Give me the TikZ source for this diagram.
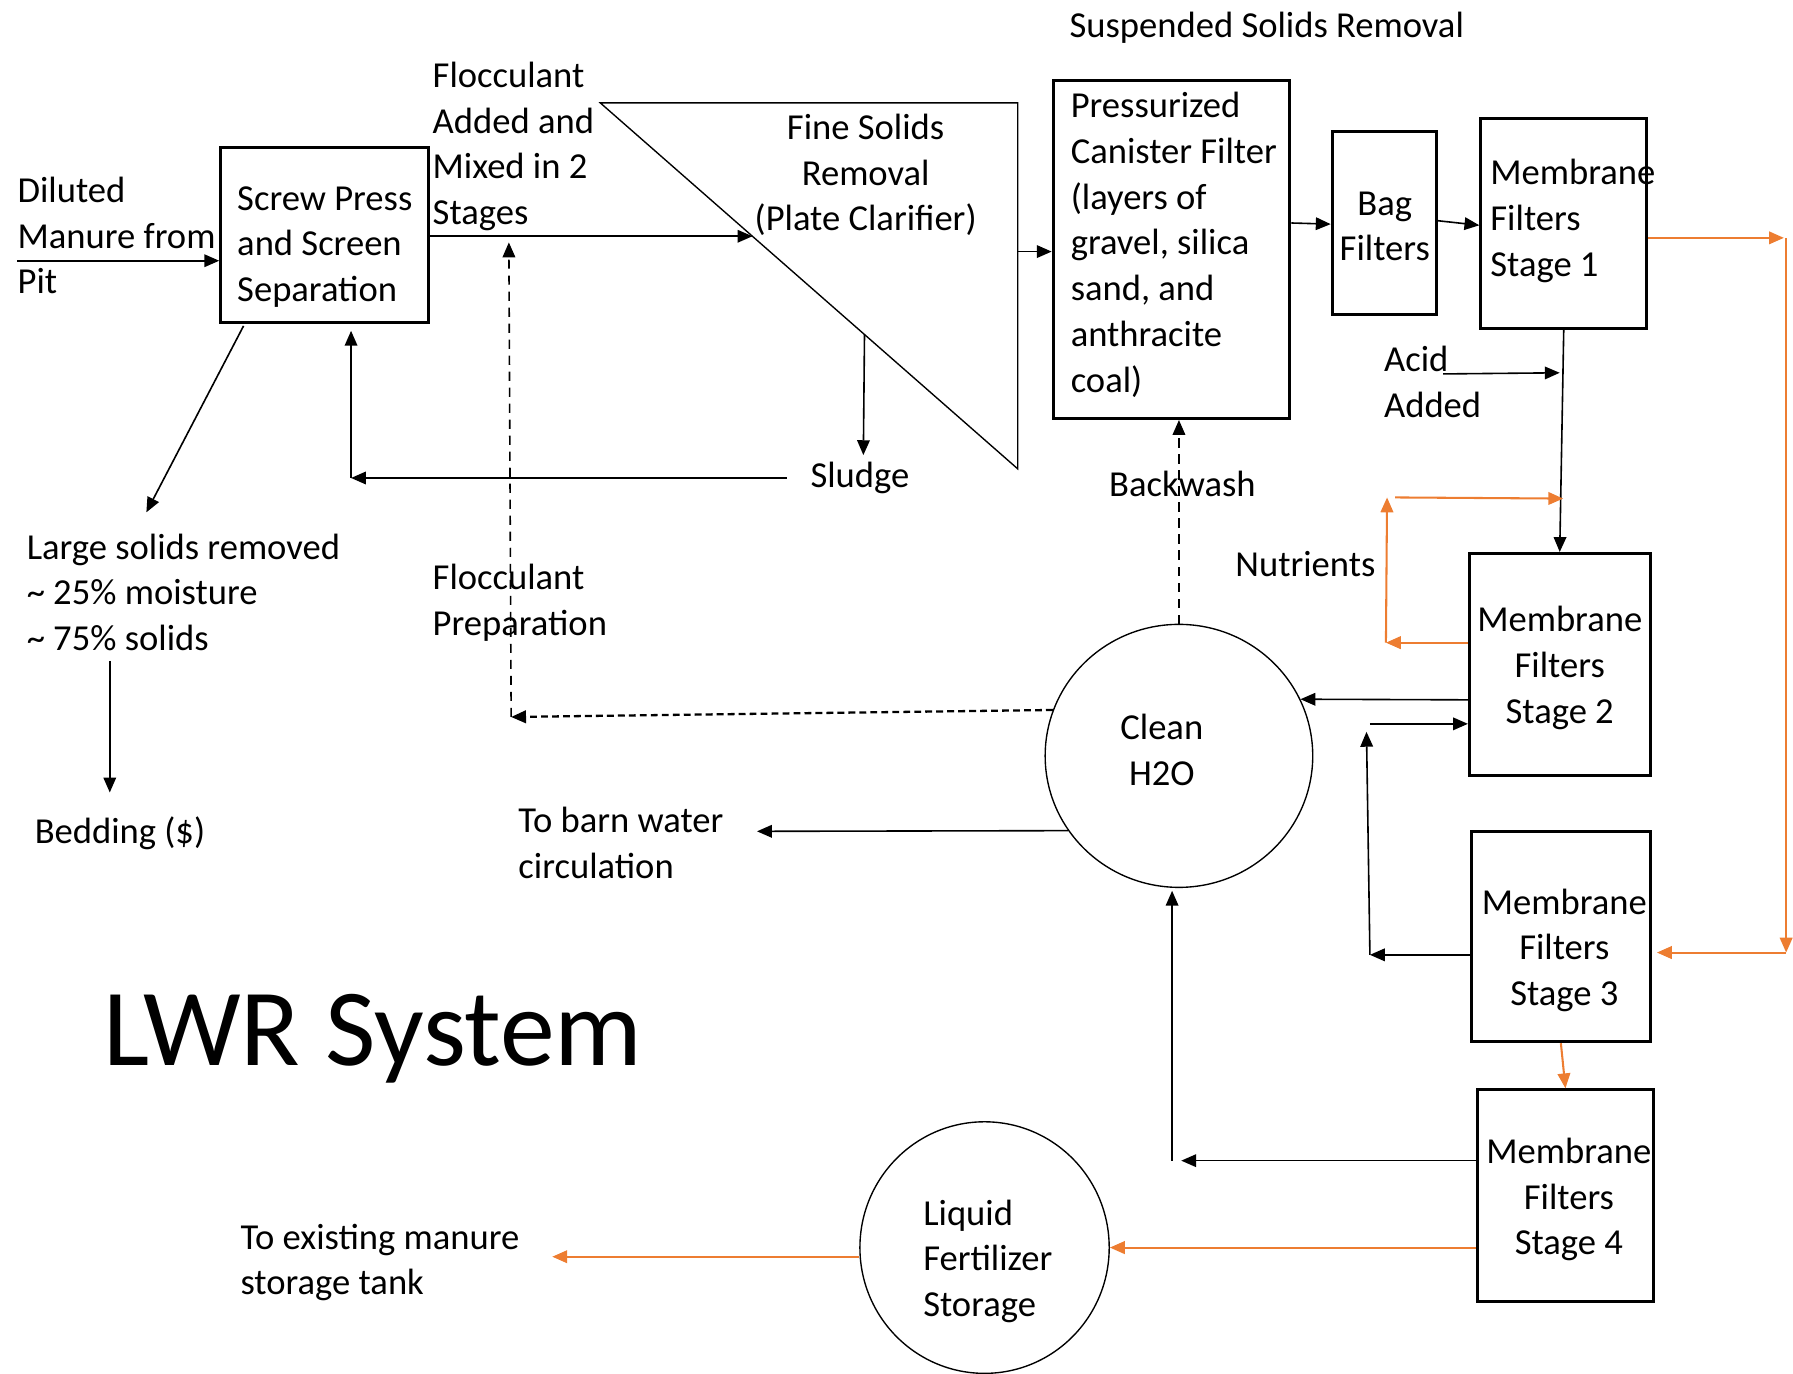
\documentclass[tikz,border=0pt]{standalone}
\usepackage{fontspec}
\setmainfont{Carlito}
\usetikzlibrary{arrows.meta,shapes.geometric,fit,calc}
\definecolor{orng}{RGB}{237,125,49}
\begin{document}
\begin{tikzpicture}[x=0.5pt,y=-0.5pt,
 box/.style={draw,line width=1.3pt,inner sep=0pt},
 ring/.style={draw,ellipse,line width=0.6pt,inner sep=0pt},
 lbl/.style={inner sep=0pt,align=left,font=\fontsize{16}{20}\selectfont},
 clbl/.style={lbl,align=center},
 conn/.style={line width=0.7pt,-{Triangle[length=6.5pt,width=5.5pt]}},
 oconn/.style={conn,draw=orng,line width=0.9pt},
 dconn/.style={conn,dash pattern=on 4pt off 3pt},
 ]
\useasboundingbox (0,0) rectangle (1568,1201);

% boxes
\node[box,fit={(193,129)(375,282)}] (sp) {};
\node[box,fit={(921,70)(1128,366)}] (can) {};
\node[box,fit={(1165,115)(1256,275)}] (bag) {};
\node[box,fit={(1295,104)(1440,287)}] (m1) {};
\node[box,fit={(1285,484)(1443,678)}] (m2) {};
\node[box,fit={(1287,727)(1443,911)}] (m3) {};
\node[box,fit={(1292,953)(1446,1138)}] (m4) {};

% circles
\node[ring,minimum width=117pt,minimum height=115pt] (clean) at (1031,661) {};
\node[ring,minimum width=109pt,minimum height=110pt] (liq) at (861,1091) {};

% plate clarifier
\coordinate (tA) at (525,90);
\coordinate (tB) at (890,90);
\coordinate (tC) at (890,410);
\draw[line width=0.6pt] (tA) -- (tB) -- (tC) -- cycle;

% texts
\node[lbl,anchor=west] (susp) at (935,24) {Suspended Solids Removal};
\node[lbl,anchor=west] (dil) at (15,206) {Diluted\\Manure from\\Pit};
\node[lbl] (sptxt) at (284,216) {Screw Press\\and Screen\\Separation};
\node[lbl,anchor=west] (floc) at (378,128) {Flocculant\\Added and\\Mixed in 2\\Stages};
\node[clbl] (fine) at (757,153) {Fine Solids\\Removal\\(Plate Clarifier)};
\node[lbl,anchor=west] (cantxt) at (936,214) {Pressurized\\Canister Filter\\(layers of\\gravel, silica\\sand, and\\anthracite\\coal)};
\node[clbl] (bagtxt) at (1211,198) {Bag\\Filters};
\node[lbl,anchor=west] (m1txt) at (1303,193) {Membrane\\Filters\\Stage 1};
\node[lbl,anchor=west] (acid) at (1210,334) {Acid\\Added};
\node[lbl] (sludge) at (752,418) {Sludge};
\node[lbl] (backwash) at (1034,423) {Backwash};
\node[lbl,anchor=west] (nutr) at (1080,493) {Nutrients};
\node[lbl,anchor=west] (large) at (23,518) {Large solids removed\\\textasciitilde\ 25\% moisture\\\textasciitilde\ 75\% solids};
\node[lbl,anchor=west] (flocprep) at (378,527) {Flocculant\\Preparation};
\node[clbl] (m2txt) at (1364,584) {Membrane\\Filters\\Stage 2};
\node[clbl] (cleantxt) at (1016,656) {Clean\\H2O};
\node[lbl,anchor=west] (barn) at (453,737) {To barn water\\circulation};
\node[lbl,anchor=west] (bedding) at (30,729) {Bedding (\$)};
\node[clbl] (m3txt) at (1368,831) {Membrane\\Filters\\Stage 3};
\node[inner sep=0pt,anchor=base west,font=\fontsize{48}{56}\selectfont] (lwr) at (90,932) {LWR System};
\node[clbl] (m4txt) at (1372,1049) {Membrane\\Filters\\Stage 4};
\node[lbl,anchor=west] (liqtxt) at (807,1103) {Liquid\\Fertilizer\\Storage};
\node[lbl,anchor=west] (exist) at (210,1104) {To existing manure\\storage tank};

% free ends
\coordinate (inS) at (15,228);
\coordinate (clIn) at ($(tA)!0.3644!(tC)$);
\coordinate (slTop) at ($(tA)!0.6329!(tC)$);
\coordinate (slBot) at (755,398);
\coordinate (slL) at (688,418);
\coordinate (ret) at (307,418);
\coordinate (lsStart) at (213,285);
\coordinate (lsEnd) at (128,448);
\coordinate (bedTop) at (96,578);
\coordinate (bedEnd) at (96,693);
\coordinate (fp) at (447,627);
\coordinate (fpTop) at (445,212);
\coordinate (o1) at (1560,208);
\coordinate (o2) at (1562,208);
\coordinate (o3) at (1562,833);
\coordinate (o4) at (1449,833);
\coordinate (acS) at (1262,327);
\coordinate (acE) at (1364,326);
\coordinate (n1) at (1212,562);
\coordinate (n2) at (1213,435);
\coordinate (n3) at (1220,435);
\coordinate (n4) at (1367,436);
\coordinate (r1) at (1198,835);
\coordinate (r2) at (1195,640);
\coordinate (r3) at (1198,633);
\coordinate (s4a) at (1033,1015);
\coordinate (s4b) at (1025,1015);
\coordinate (s4c) at (1025,779);
\coordinate (barnE) at (662,727);
\coordinate (existE) at (483,1099);

% connectors
\draw[conn] (inS) -- (sp.west |- inS);
\draw[conn] (sp.east |- clIn) -- (clIn);
\draw[conn] (tB |- 0,220) -- (can.west |- 0,220);
\draw[conn] (slTop) -- (slBot);
\draw[conn] (slL) -- (ret);
\draw[conn,shorten >=3pt] (ret) -- (ret |- sp.south);
\draw[conn] (lsStart) -- (lsEnd);
\draw[conn] (bedTop) -- (bedEnd);
\draw[conn,dash pattern=on 3pt off 1.8pt,line width=1pt] (clean.160) -- (fp);
\draw[dconn] (fp) -- (fpTop);
\draw[dconn] (clean.north) -- (clean.north |- can.south);
\draw[conn] (can.east |- 0,195) -- (bag.west |- 0,196);
\draw[conn] (bag.east |- 0,193) -- (m1.west |- 0,197);
\draw[oconn] (m1.east |- o1) -- (o1);
\draw[oconn] (o2) -- (o3);
\draw[oconn] (o3) -- (o4);
\draw[conn] (m1.south) -- (m2.north);
\draw[conn] (acS) -- (acE);
\draw[oconn] (m2.west |- n1) -- (n1);
\draw[oconn] (n1) -- (n2);
\draw[oconn] (n3) -- (n4);
\draw[conn] (m2.west |- 0,612) -- (clean.25);
\draw[conn] (m3.west |- r1) -- (r1);
\draw[conn] (r1) -- (r2);
\draw[conn] (r3) -- (m2.west |- r3);
\draw[oconn] (m3.south) -- (m4.north);
\draw[conn] (m4.west |- s4a) -- (s4a);
\draw[conn] (s4b) -- (s4c);
\draw[conn] (clean.214) -- (barnE);
\draw[oconn] (m4.west |- liq.east) -- (liq.east);
\draw[oconn] (liq.west |- existE) -- (existE);
\end{tikzpicture}
\end{document}
